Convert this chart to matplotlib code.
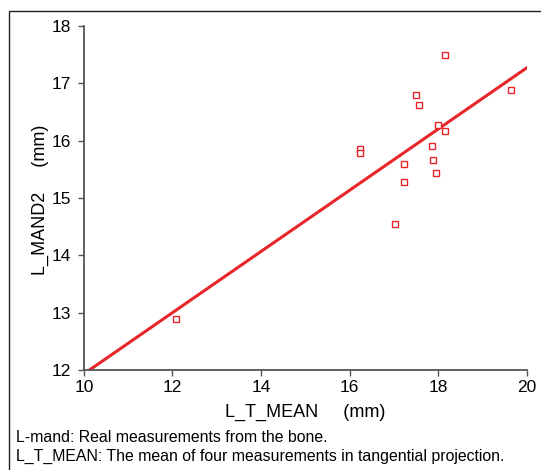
import matplotlib
matplotlib.use("Agg")
import matplotlib.pyplot as plt
import numpy as np
from matplotlib.patches import Rectangle

# Data
l_t_mean = [12.08, 16.23, 16.23, 17.03, 17.22, 17.22, 17.50, 17.56, 17.85, 17.88, 17.94, 17.99, 18.16, 18.16, 19.63]
l_mand2 = [12.89, 15.85, 15.78, 14.54, 15.59, 15.27, 16.80, 16.62, 15.91, 15.66, 15.43, 16.27, 16.16, 17.50, 16.88]
fit_slope = 0.534
fit_intercept = 6.59
x_ticks = [10, 12, 14, 16, 18, 20]
y_ticks = [12, 13, 14, 15, 16, 17, 18]

plt.rcParams['font.family'] = ['Liberation Sans', 'DejaVu Sans']
red = '#e8262a'
grey = '#555555'

fig = plt.figure(figsize=(5.41, 4.70), dpi=100)
ax = fig.add_axes([0.155, 0.213, 0.819, 0.732])

fx = np.array([10.0, 20.0])
ax.plot(fx, fit_slope * fx + fit_intercept, color=red, lw=2.2, zorder=2)
ax.plot(l_t_mean, l_mand2, linestyle='none', marker='s', markersize=4.2,
        markerfacecolor='white', markeredgecolor=red, markeredgewidth=1.0, zorder=3)

ax.set_xlim(10, 20)
ax.set_ylim(12, 18)
ax.set_xticks(x_ticks)
ax.set_yticks(y_ticks)
for s in ['top', 'right']:
    ax.spines[s].set_visible(False)
for s in ['left', 'bottom']:
    ax.spines[s].set_color(grey)
    ax.spines[s].set_linewidth(1.3)
ax.tick_params(direction='out', length=4, width=1, color=grey, labelsize=12.5)
ax.tick_params(axis='x', pad=3)
ax.tick_params(axis='y', pad=5)

fig.text(305 / 541, 1 - 412 / 470, 'L_T_MEAN     (mm)', ha='center', va='center', fontsize=13)
fig.text(40 / 541, 1 - 200 / 470, 'L_MAND2     (mm)', ha='center', va='center', rotation=90, fontsize=13)
fig.text(16 / 541, 1 - 437 / 470, 'L-mand: Real measurements from the bone.', ha='left', va='center', fontsize=11.4)
fig.text(16 / 541, 1 - 456 / 470, 'L_T_MEAN: The mean of four measurements in tangential projection.', ha='left', va='center', fontsize=11.4)

fig.patches.append(Rectangle((9 / 541, -0.05), 1.2, 1 - 11 / 470 + 0.05, transform=fig.transFigure,
                             fill=False, edgecolor='#222222', linewidth=1.0))

fig.savefig('out.png', dpi=100)
